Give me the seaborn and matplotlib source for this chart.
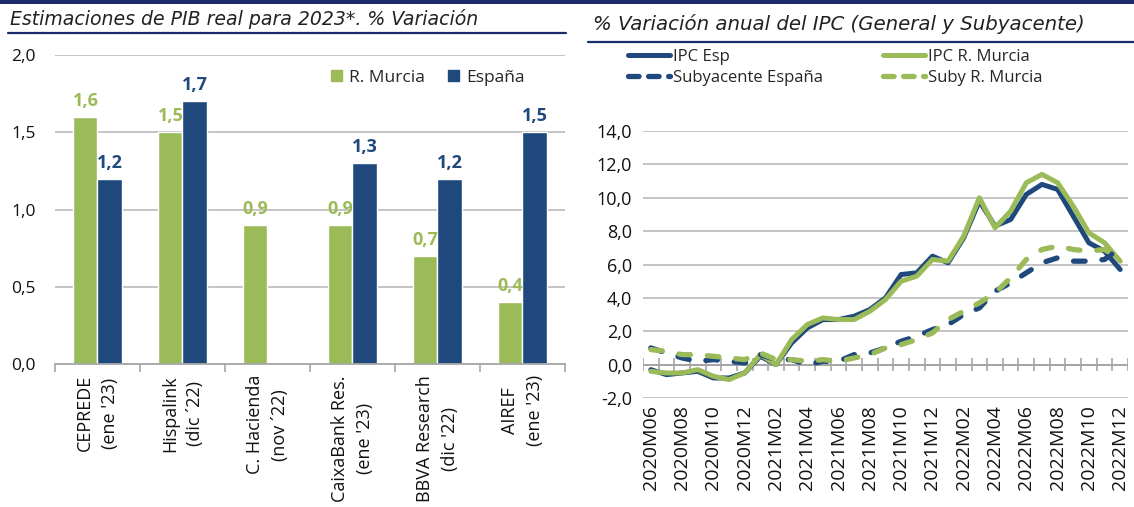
import numpy as np
import pandas as pd
import matplotlib
matplotlib.use("Agg")
import matplotlib.pyplot as plt
from matplotlib.lines import Line2D
from matplotlib.patches import Rectangle, Patch
from matplotlib.ticker import FuncFormatter
import seaborn as sns

# ---------------- data ----------------
fuentes = ["CEPREDE\n(ene '23)", "Hispalink\n(dic \u00b422)", "C. Hacienda\n(nov \u00b422)",
           "CaixaBank Res.\n(ene '23)", "BBVA Research\n(dic '22)", "AIREF\n(ene '23)"]
pib_murcia = [1.6, 1.5, 0.9, 0.9, 0.7, 0.4]
pib_espana = [1.2, 1.7, np.nan, 1.3, 1.2, 1.5]

meses = ["2020M06", "2020M07", "2020M08", "2020M09", "2020M10", "2020M11", "2020M12",
         "2021M01", "2021M02", "2021M03", "2021M04", "2021M05", "2021M06", "2021M07",
         "2021M08", "2021M09", "2021M10", "2021M11", "2021M12", "2022M01", "2022M02",
         "2022M03", "2022M04", "2022M05", "2022M06", "2022M07", "2022M08", "2022M09",
         "2022M10", "2022M11", "2022M12"]
ipc_esp = [-0.3, -0.6, -0.5, -0.4, -0.8, -0.8, -0.5, 0.5, 0.0, 1.3, 2.2, 2.7, 2.7, 2.9, 3.3,
           4.0, 5.4, 5.5, 6.5, 6.1, 7.6, 9.8, 8.3, 8.7, 10.2, 10.8, 10.5, 8.9, 7.3, 6.8, 5.7]
ipc_mur = [-0.4, -0.5, -0.5, -0.3, -0.7, -0.9, -0.5, 0.6, 0.0, 1.5, 2.4, 2.8, 2.7, 2.7, 3.2,
           3.9, 5.0, 5.3, 6.3, 6.2, 7.7, 10.0, 8.2, 9.2, 10.9, 11.4, 10.9, 9.5, 7.9, 7.3, 6.2]
suby_esp = [1.0, 0.7, 0.4, 0.2, 0.3, 0.2, 0.1, 0.6, 0.3, 0.3, 0.0, 0.2, 0.2, 0.6, 0.7,
            1.0, 1.4, 1.7, 2.1, 2.4, 3.0, 3.4, 4.4, 4.9, 5.5, 6.1, 6.4, 6.2, 6.2, 6.3, 7.0]
suby_mur = [0.9, 0.8, 0.6, 0.6, 0.5, 0.4, 0.3, 0.7, 0.3, 0.3, 0.2, 0.3, 0.2, 0.4, 0.6,
            1.0, 1.2, 1.5, 1.9, 2.7, 3.2, 3.7, 4.3, 5.2, 6.3, 6.9, 7.1, 6.9, 6.8, 6.9, 6.3]

GREEN = "#9BBB59"
NAVY = "#1F497D"
DARK = "#1B2A6B"
GRID = "#BFBFBF"
AXIS = "#A6A6A6"

sns.set_theme(style="white")
plt.rcParams["font.family"] = ["Open Sans", "DejaVu Sans"]

W, H = 1134, 507
fig = plt.figure(figsize=(W / 100, H / 100), dpi=100)

# ---------------- decorations ----------------
fig.add_artist(Rectangle((0, 1 - 4 / H), 1, 4 / H, transform=fig.transFigure,
                         color=DARK, lw=0))
fig.text(10 / W, 1 - 19 / H, "Estimaciones de PIB real para 2023*. % Variación",
         family="DejaVu Sans", style="italic", fontsize=13.6, va="center", color="#222222")
fig.add_artist(Line2D([8 / W, 566 / W], [1 - 33 / H] * 2, transform=fig.transFigure,
                      color=DARK, lw=1.6))
fig.text(593 / W, 1 - 24 / H, "% Variación anual del IPC (General y Subyacente)",
         family="DejaVu Sans", style="italic", fontsize=14.2, va="center", color="#222222")
fig.add_artist(Line2D([588 / W, 1.0], [1 - 42 / H] * 2, transform=fig.transFigure,
                      color=DARK, lw=1.6))

# ---------------- left: bars ----------------
ax1 = fig.add_axes([55 / W, (H - 364) / H, 510 / W, 309 / H])
df_bar = pd.DataFrame({
    "Fuente": fuentes * 2,
    "Serie": ["R. Murcia"] * len(fuentes) + ["España"] * len(fuentes),
    "Valor": pib_murcia + pib_espana,
})
sns.barplot(data=df_bar, x="Fuente", y="Valor", hue="Serie", order=fuentes,
            hue_order=["R. Murcia", "España"], palette=[GREEN, NAVY], saturation=1,
            width=0.565, gap=0, ax=ax1, legend=False)
for cont, col in zip(ax1.containers, [GREEN, NAVY]):
    labs = ["" if np.isnan(v) else f"{v:.1f}".replace(".", ",") for v in cont.datavalues]
    ax1.bar_label(cont, labels=labs, padding=5, color=col, fontsize=13,
                  fontweight="bold")
ax1.set_ylim(0, 2.0)
ax1.set_xlim(-0.5, len(fuentes) - 0.5)
ax1.set_yticks(np.arange(0, 2.01, 0.5))
ax1.yaxis.set_major_formatter(FuncFormatter(lambda v, p: f"{v:.1f}".replace(".", ",")))
ax1.yaxis.grid(True, color=GRID, lw=1.3)
ax1.set_axisbelow(True)
ax1.set_xlabel("")
ax1.set_ylabel("")
for s in ["top", "right", "left"]:
    ax1.spines[s].set_visible(False)
ax1.spines["bottom"].set_color(AXIS)
ax1.spines["bottom"].set_linewidth(1.3)
ax1.set_xticks(np.arange(-0.5, len(fuentes)), minor=True)
ax1.tick_params(axis="x", which="minor", length=6, width=1.2, color=AXIS, bottom=True)
ax1.tick_params(axis="x", which="major", length=0, pad=8, labelsize=13,
                labelcolor="#111111")
ax1.tick_params(axis="y", length=0, pad=14, labelsize=12.5, labelcolor="#111111")
for lab in ax1.get_xticklabels():
    lab.set_rotation(90)
    lab.set_ha("center")
    lab.set_va("top")
    lab.set_multialignment("center")
    lab.set_linespacing(1.45)

leg_handles = [Patch(color=GREEN), Patch(color=NAVY)]
ax1.legend(leg_handles, ["R. Murcia", "España"], loc="upper right",
           bbox_to_anchor=(540 / W, 1 - 54 / H), bbox_transform=fig.transFigure,
           ncol=2, frameon=False, handlelength=0.65, handleheight=0.65,
           handletextpad=0.4, columnspacing=1.3, fontsize=12.5)

# ---------------- right: lines ----------------
ax2 = fig.add_axes([643 / W, (H - 398) / H, 485 / W, 267 / H])
x = np.arange(len(meses))
sns.lineplot(x=x, y=ipc_esp, color=NAVY, lw=3.6, ax=ax2, legend=False)
sns.lineplot(x=x, y=ipc_mur, color=GREEN, lw=3.6, ax=ax2, legend=False)
sns.lineplot(x=x, y=suby_esp, color=NAVY, lw=3.8, ax=ax2, legend=False,
             linestyle=(0, (2.2, 3.2)), dash_capstyle="round")
sns.lineplot(x=x, y=suby_mur, color=GREEN, lw=3.8, ax=ax2, legend=False,
             linestyle=(0, (2.2, 3.2)), dash_capstyle="round")
ax2.set_xlim(-0.5, len(meses) - 0.5)
ax2.set_ylim(-2, 14)
ax2.set_yticks(np.arange(-2, 14.01, 2))
ax2.yaxis.set_major_formatter(FuncFormatter(lambda v, p: f"{v:.1f}".replace(".", ",")))
ax2.yaxis.grid(True, color=GRID, lw=1.3)
ax2.set_axisbelow(True)
for s in ["top", "right", "left", "bottom"]:
    ax2.spines[s].set_visible(False)
ax2.axhline(0, color=AXIS, lw=1.4, zorder=1)
ax2.vlines(np.arange(-0.5, len(meses)), -0.38, 0.38, color=AXIS, lw=1.2, zorder=1)
ax2.set_xticks(x[::2])
ax2.set_xticklabels(meses[::2], rotation=90)
ax2.tick_params(axis="x", length=0, pad=5, labelsize=14, labelcolor="#111111")
ax2.tick_params(axis="y", length=0, pad=8, labelsize=13, labelcolor="#111111")
ax2.set_xlabel("")
ax2.set_ylabel("")

lh = [Line2D([], [], color=NAVY, lw=3.6),
      Line2D([], [], color=NAVY, lw=3.8, linestyle=(0, (2.0, 1.8)), dash_capstyle="round"),
      Line2D([], [], color=GREEN, lw=3.6),
      Line2D([], [], color=GREEN, lw=3.8, linestyle=(0, (2.0, 1.8)), dash_capstyle="round")]
ll = ["IPC Esp", "Subyacente España", "IPC R. Murcia", "Suby R. Murcia"]
ax2.legend(lh, ll, loc="upper left", bbox_to_anchor=(628 / W, 1 - 49 / H),
           bbox_transform=fig.transFigure, ncol=2, frameon=False, fontsize=12,
           handlelength=2.5, handletextpad=0.2, columnspacing=3.6, labelspacing=0.3,
           borderaxespad=0, borderpad=0)

fig.savefig("out.png", dpi=100)
